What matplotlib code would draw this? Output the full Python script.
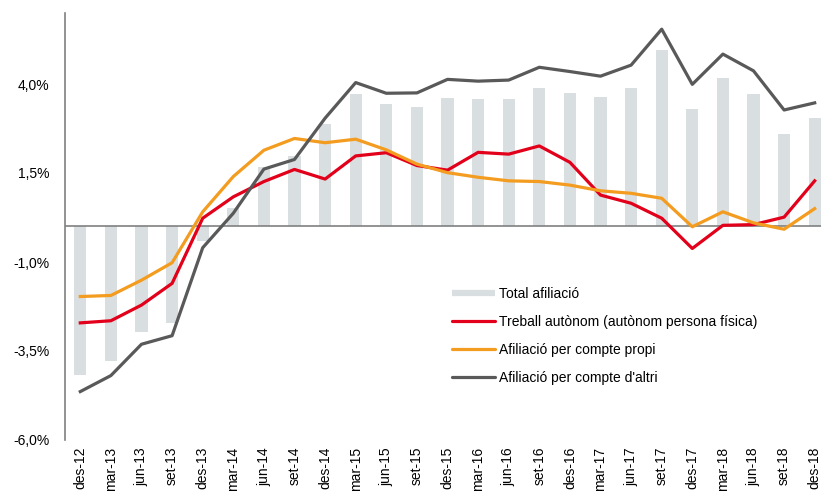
import matplotlib
matplotlib.use("Agg")
import matplotlib.pyplot as plt
from matplotlib.lines import Line2D
import numpy as np

plt.rcParams['font.family'] = ['Liberation Sans', 'DejaVu Sans']

periodes = ['des-12', 'mar-13', 'jun-13', 'set-13', 'des-13', 'mar-14', 'jun-14', 'set-14',
            'des-14', 'mar-15', 'jun-15', 'set-15', 'des-15', 'mar-16', 'jun-16', 'set-16',
            'des-16', 'mar-17', 'jun-17', 'set-17', 'des-17', 'mar-18', 'jun-18', 'set-18',
            'des-18']

total_afiliacio = [-4.17, -3.77, -2.98, -2.70, -0.40, 0.51, 1.68, 1.98,
                   2.88, 3.71, 3.44, 3.36, 3.62, 3.58, 3.58, 3.88,
                   3.76, 3.64, 3.88, 4.96, 3.30, 4.16, 3.72, 2.59, 3.05]

treball_autonom = [-2.71, -2.65, -2.21, -1.60, 0.23, 0.83, 1.26, 1.60,
                   1.33, 1.98, 2.07, 1.71, 1.58, 2.08, 2.03, 2.26,
                   1.80, 0.88, 0.65, 0.23, -0.62, 0.03, 0.05, 0.26, 1.28]

compte_propi = [-1.97, -1.94, -1.51, -1.02, 0.41, 1.40, 2.14, 2.47,
                2.35, 2.45, 2.15, 1.75, 1.51, 1.38, 1.28, 1.26,
                1.16, 1.00, 0.93, 0.79, -0.01, 0.41, 0.10, -0.08, 0.50]

compte_altri = [-4.64, -4.19, -3.31, -3.07, -0.60, 0.37, 1.61, 1.88,
                3.04, 4.04, 3.74, 3.75, 4.13, 4.08, 4.11, 4.47,
                4.35, 4.22, 4.53, 5.54, 3.99, 4.84, 4.37, 3.27, 3.47]

y_ticks = [4.0, 1.5, -1.0, -3.5, -6.0]
y_labels = ['4,0%', '1,5%', '-1,0%', '-3,5%', '-6,0%']

c_bar = '#d9dee0'
c_red = '#e2001a'
c_orange = '#f39c1f'
c_grey = '#595959'

W, H = 821, 493
fig = plt.figure(figsize=(W / 100, H / 100), dpi=100)
# axes runs a little past the right edge, like the original
ax = fig.add_axes([65 / W, (H - 440) / H, (830 - 65) / W, 427.2 / H])

x = np.arange(len(periodes))
ax.bar(x, total_afiliacio, width=0.4, color=c_bar, zorder=1)
ax.axhline(0, color='#808080', lw=1.2, zorder=2)
ax.plot(x, treball_autonom, color=c_red, lw=2.3, zorder=3)
ax.plot(x, compte_propi, color=c_orange, lw=2.3, zorder=3)
ax.plot(x, compte_altri, color=c_grey, lw=2.3, zorder=4)

ax.set_xlim(-0.5, len(periodes) - 0.5)
ax.set_ylim(-6, 6)
ax.set_yticks(y_ticks)
ax.set_yticklabels(y_labels)
ax.set_xticks(x)
ax.set_xticklabels(periodes, rotation=90, va='top')
ax.tick_params(axis='both', length=0, labelsize=10, colors='black')
ax.tick_params(axis='y', pad=11)
ax.tick_params(axis='x', pad=5)

for s in ['top', 'right', 'bottom']:
    ax.spines[s].set_visible(False)
ax.spines['left'].set_color('#808080')
ax.spines['left'].set_linewidth(1.2)

handles = [
    Line2D([], [], color=c_bar, lw=4.5, solid_capstyle='butt'),
    Line2D([], [], color=c_red, lw=2.3, solid_capstyle='round'),
    Line2D([], [], color=c_orange, lw=2.3, solid_capstyle='round'),
    Line2D([], [], color=c_grey, lw=2.3, solid_capstyle='round'),
]
labels = ['Total afiliació', 'Treball autònom (autònom persona física)',
          'Afiliació per compte propi', "Afiliació per compte d'altri"]
fig.legend(handles, labels, loc='upper left', bbox_to_anchor=(452 / W, 1 - 287 / H),
           bbox_transform=fig.transFigure, frameon=False, fontsize=10,
           handlelength=3.1, handletextpad=0.3, labelspacing=1.0,
           borderpad=0, borderaxespad=0)

fig.savefig('out.png', dpi=100)
